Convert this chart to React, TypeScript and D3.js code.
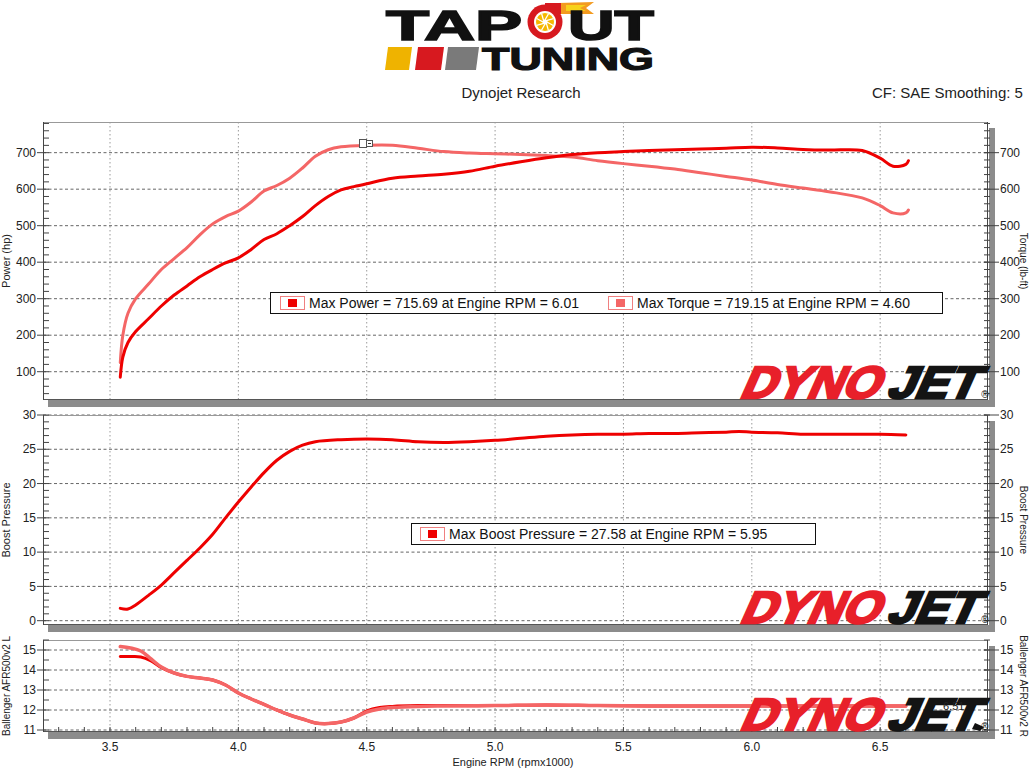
import React from 'react';
import * as d3 from 'd3';

// ---------- DATA ----------
const xTickLabels = ['3.5', '4.0', '4.5', '5.0', '5.5', '6.0', '6.5'];
const xTickValues = [3.5, 4.0, 4.5, 5.0, 5.5, 6.0, 6.5];

const powerRpm = [3.54, 3.55, 3.57, 3.60, 3.65, 3.70, 3.75, 3.80, 3.85, 3.90, 3.95, 4.00, 4.05, 4.10, 4.15, 4.20, 4.25, 4.30, 4.35, 4.40, 4.45, 4.50, 4.60, 4.70, 4.80, 4.90, 5.00, 5.10, 5.20, 5.30, 5.40, 5.50, 5.60, 5.70, 5.80, 5.90, 6.00, 6.10, 6.20, 6.30, 6.43, 6.50, 6.55, 6.60, 6.61];
const powerHp = [85, 140, 180, 210, 245, 280, 310, 335, 360, 380, 398, 412, 435, 462, 478, 500, 525, 555, 580, 598, 607, 615, 630, 636, 641, 649, 663, 675, 686, 695, 700, 703, 706, 708, 710, 712, 715, 713, 709, 707, 706, 685, 663, 668, 678];

const torqueRpm = [3.54, 3.55, 3.57, 3.60, 3.65, 3.70, 3.75, 3.80, 3.85, 3.90, 3.95, 4.00, 4.05, 4.10, 4.15, 4.20, 4.25, 4.30, 4.35, 4.40, 4.50, 4.60, 4.70, 4.80, 4.90, 5.00, 5.10, 5.20, 5.30, 5.40, 5.50, 5.60, 5.70, 5.80, 5.90, 6.00, 6.10, 6.20, 6.30, 6.43, 6.50, 6.55, 6.60, 6.61];
const torqueLbft = [125, 200, 260, 300, 340, 380, 410, 440, 475, 505, 525, 540, 565, 595, 610, 630, 658, 690, 708, 716, 720, 720, 712, 703, 699, 697, 695, 692, 688, 678, 670, 663, 655, 645, 635, 625, 613, 603, 593, 576, 555, 535, 535, 543];

const boostRpm = [3.54, 3.57, 3.60, 3.65, 3.70, 3.75, 3.80, 3.85, 3.90, 3.95, 4.00, 4.05, 4.10, 4.15, 4.20, 4.25, 4.30, 4.40, 4.50, 4.60, 4.70, 4.80, 4.90, 5.00, 5.10, 5.20, 5.30, 5.40, 5.50, 5.60, 5.70, 5.80, 5.90, 5.95, 6.00, 6.10, 6.20, 6.30, 6.40, 6.50, 6.60];
const boostPsi = [1.8, 1.7, 2.3, 3.7, 5.2, 7.0, 8.8, 10.6, 12.6, 15.0, 17.3, 19.5, 21.6, 23.4, 24.7, 25.6, 26.1, 26.4, 26.5, 26.4, 26.1, 26.0, 26.1, 26.3, 26.6, 26.9, 27.1, 27.2, 27.2, 27.3, 27.3, 27.4, 27.5, 27.58, 27.5, 27.4, 27.2, 27.2, 27.2, 27.2, 27.1];

const afrRpm = [3.54, 3.58, 3.62, 3.66, 3.70, 3.75, 3.80, 3.85, 3.90, 3.95, 4.00, 4.05, 4.10, 4.15, 4.20, 4.25, 4.30, 4.35, 4.40, 4.45, 4.50, 4.55, 4.60, 4.70, 4.80, 5.00, 5.20, 5.40, 5.60, 5.80, 6.00, 6.20, 6.40, 6.60];
const afrL = [14.67, 14.67, 14.65, 14.45, 14.12, 13.85, 13.68, 13.6, 13.5, 13.25, 12.85, 12.55, 12.28, 12.0, 11.75, 11.55, 11.35, 11.32, 11.4, 11.6, 11.95, 12.12, 12.18, 12.22, 12.22, 12.22, 12.25, 12.22, 12.2, 12.2, 12.2, 12.2, 12.2, 12.2];
const afrR = [15.17, 15.1, 14.95, 14.55, 14.15, 13.85, 13.68, 13.6, 13.5, 13.25, 12.85, 12.55, 12.28, 12.0, 11.75, 11.55, 11.35, 11.32, 11.4, 11.6, 11.9, 12.05, 12.12, 12.18, 12.2, 12.22, 12.25, 12.22, 12.2, 12.2, 12.2, 12.2, 12.2, 12.2];

const powerTicks = [100, 200, 300, 400, 500, 600, 700];
const boostTicks = [0, 5, 10, 15, 20, 25, 30];
const afrTicks = [11, 12, 13, 14, 15];

const legendPower = 'Max Power = 715.69 at Engine RPM = 6.01';
const legendTorque = 'Max Torque = 719.15 at Engine RPM = 4.60';
const legendBoost = 'Max Boost Pressure = 27.58 at Engine RPM = 5.95';

// ---------- STYLE ----------
const RED = '#ee0000';
const PINK = '#f46666';
const SHADOW = '#8c8c8c';
const FONT = '"Liberation Sans", Arial, sans-serif';

const X0 = 43;
const X1 = 988;
const x = d3.scaleLinear().domain([3.239, 6.92]).range([X0, X1]);

type PanelCfg = {
  top: number;
  bottom: number;
  y: d3.ScaleLinear<number, number>;
  majors: number[];
  minors: number[];
  leftTitle: string;
  rightTitle: string;
  xMinor?: boolean;
};

const minorRange = (a: number, b: number, s: number) => {
  const out: number[] = [];
  for (let v = a; v <= b + 1e-9; v += s) out.push(Math.round(v * 1000) / 1000);
  return out;
};

const panels: PanelCfg[] = [
  {
    top: 122, bottom: 400,
    y: d3.scaleLinear().domain([22.5, 784]).range([400, 122]),
    majors: powerTicks, minors: minorRange(40, 780, 20),
    leftTitle: 'Power (hp)', rightTitle: 'Torque (lb-ft)',
  },
  {
    top: 415, bottom: 625,
    y: d3.scaleLinear().domain([-0.63, 30]).range([625, 415]),
    majors: boostTicks, minors: minorRange(0, 30, 1),
    leftTitle: 'Boost Pressure', rightTitle: 'Boost Pressure',
  },
  {
    top: 640, bottom: 732,
    y: d3.scaleLinear().domain([10.9, 15.5]).range([732, 640]),
    majors: afrTicks, minors: minorRange(11, 15.5, 0.5),
    leftTitle: 'Ballenger AFR500v2 L', rightTitle: 'Ballenger AFR500v2 R',
    xMinor: true,
  },
];

function PanelFrame({ p }: { p: PanelCfg }) {
  const mid = (p.top + p.bottom) / 2;
  return (
    <g>
      <rect x={X0 + 5} y={p.bottom} width={X1 - X0 + 2} height={7} fill={SHADOW} />
      <rect x={X1 + 1} y={p.top + 6} width={6} height={p.bottom - p.top + 1} fill={SHADOW} />
      <rect x={X0} y={p.top} width={X1 - X0} height={p.bottom - p.top} fill="#fff" />
      {xTickValues.map((v) => (
        <line key={'vg' + v} x1={x(v)} x2={x(v)} y1={p.top} y2={p.bottom} stroke="#9a9a9a" strokeDasharray="1.5,2.5" strokeWidth={1} />
      ))}
      {p.majors.map((v) => (
        <line key={'hg' + v} x1={X0} x2={X1} y1={p.y(v)} y2={p.y(v)} stroke="#666" strokeDasharray="3,2.5" strokeWidth={1} />
      ))}
      <line x1={X0} x2={X1} y1={p.top + 0.5} y2={p.top + 0.5} stroke="#999" />
      <line x1={X0} x2={X1} y1={p.bottom - 0.5} y2={p.bottom - 0.5} stroke="#555" />
      <line x1={X0 + 0.5} x2={X0 + 0.5} y1={p.top} y2={p.bottom} stroke="#444" />
      <line x1={X1 - 0.5} x2={X1 - 0.5} y1={p.top} y2={p.bottom} stroke="#444" />
      {p.minors.map((v) => (
        <g key={'mt' + v}>
          <line x1={X0} x2={X0 + 6} y1={p.y(v)} y2={p.y(v)} stroke="#444" />
          <line x1={X1 - 4} x2={X1 + 2} y1={p.y(v)} y2={p.y(v)} stroke="#444" />
        </g>
      ))}
      {p.majors.map((v) => (
        <g key={'mj' + v}>
          <line x1={X0 - 6} x2={X0} y1={p.y(v)} y2={p.y(v)} stroke="#444" />
          <line x1={X1 - 4} x2={X1 + 11} y1={p.y(v)} y2={p.y(v)} stroke="#444" />
          <text x={X0 - 7} y={p.y(v)} dy="0.35em" textAnchor="end" fontSize={12} fontFamily={FONT} fill="#222">{v}</text>
          <text x={X1 + 12} y={p.y(v)} dy="0.35em" textAnchor="start" fontSize={12} fontFamily={FONT} fill="#222">{v}</text>
        </g>
      ))}
      {p.xMinor && minorRange(3.3, 6.9, 0.1).map((v) => (
        <line key={'xm' + v} x1={x(v)} x2={x(v)} y1={p.bottom - 5} y2={p.bottom} stroke="#444" />
      ))}
      <text transform={`translate(10,${mid}) rotate(-90)`} textAnchor="middle" fontSize={p.leftTitle.length > 16 ? 10 : 11} fontFamily={FONT} fill="#222">{p.leftTitle}</text>
      <text transform={`translate(1020,${mid}) rotate(90)`} textAnchor="middle" fontSize={10} fontFamily={FONT} fill="#222">{p.rightTitle}</text>
    </g>
  );
}

function DynojetMark({ baseline }: { baseline: number }) {
  return (
    <g>
      <g transform={`translate(738,${baseline}) skewX(-24)`}>
        <text x={0} y={-1} fontSize={45} fontWeight={900} fontFamily={FONT} fill="#e8202a" stroke="#e8202a" strokeWidth={2.6} strokeLinejoin="miter" textLength={139} lengthAdjust="spacingAndGlyphs">DYNO</text>
        <text x={147} y={-1} fontSize={45} fontWeight={900} fontFamily={FONT} fill="#141414" stroke="#141414" strokeWidth={2.6} strokeLinejoin="miter" textLength={90} lengthAdjust="spacingAndGlyphs">JET</text>
      </g>
      <text x={985} y={baseline - 1} fontSize={10} fontFamily={FONT} fill="#111" textAnchor="middle">®</text>
    </g>
  );
}

function Legend({ x0, y0, w, items }: { x0: number; y0: number; w: number; items: { tx: number; text: string; color: string }[] }) {
  return (
    <g>
      <rect x={x0 + 0.5} y={y0 + 0.5} width={w} height={21} fill="#fff" stroke="#111" />
      {items.map((it, i) => (
        <g key={i}>
          <rect x={it.tx - 28.5} y={y0 + 4.5} width={24} height={13} fill="#fff" stroke="#f08080" />
          <rect x={it.tx - 21} y={y0 + 7} width={9} height={8} fill={it.color} />
          <text x={it.tx} y={y0 + 16} fontSize={14} fontFamily={FONT} fill="#111">{it.text}</text>
        </g>
      ))}
    </g>
  );
}

function TapoutLogo() {
  const spokes = d3.range(8).map((i) => (i * Math.PI) / 4);
  return (
    <g>
      <text x={386} y={40} fontSize={43} fontWeight={900} fontFamily={FONT} fill="#111" stroke="#111" strokeWidth={1.6} textLength={136} lengthAdjust="spacingAndGlyphs">TAP</text>
      <path d="M558,3 L594,2 L586,8 L594,14 L558,14 Z" fill="#f39a1e" />
      <path d="M566,5 L586,5 L580,8 L586,11 L566,11 Z" fill="#f7d21a" />
      <rect x={545} y={3} width={16} height={11} fill="#d7191f" />
      <circle cx={545} cy={22} r={17.5} fill="#d7191f" />
      <circle cx={545} cy={22} r={11} fill="#fff" />
      <circle cx={545} cy={22} r={9} fill="#f5b800" />
      {spokes.map((a, i) => (
        <line key={i} x1={545 + 2 * Math.cos(a)} y1={22 + 2 * Math.sin(a)} x2={545 + 9 * Math.cos(a + 0.4)} y2={22 + 9 * Math.sin(a + 0.4)} stroke="#fff" strokeWidth={1.3} />
      ))}
      <circle cx={545} cy={22} r={2.5} fill="#fff" />
      <text x={568} y={40} fontSize={43} fontWeight={900} fontFamily={FONT} fill="#111" stroke="#111" strokeWidth={1.6} textLength={86} lengthAdjust="spacingAndGlyphs">UT</text>
      <polygon points="388,47 412,47 409,70 385,70" fill="#efb300" />
      <polygon points="418,47 444,47 441,70 415,70" fill="#d7191f" />
      <polygon points="448,47 479,47 476,70 445,70" fill="#7a7a7a" />
      <text x={482} y={70} fontSize={31} fontWeight={900} fontFamily={FONT} fill="#111" stroke="#111" strokeWidth={1.2} textLength={172} lengthAdjust="spacingAndGlyphs">TUNING</text>
    </g>
  );
}

export default function App() {
  const [pTop, pMid, pBot] = panels;
  const mkLine = (ys: d3.ScaleLinear<number, number>) =>
    d3.line<[number, number]>().x((d) => x(d[0])).y((d) => ys(d[1])).curve(d3.curveCatmullRom.alpha(0.5));
  const zip = (a: number[], b: number[]) => a.map((v, i) => [v, b[i]] as [number, number]);

  const topLine = mkLine(pTop.y);
  const midLine = mkLine(pMid.y);
  const botLine = mkLine(pBot.y);

  return (
    <svg width={1032} height={778} style={{ position: 'absolute', left: 0, top: 0, background: '#fff' }}>
      <rect x={0} y={0} width={1032} height={778} fill="#fff" />
      <TapoutLogo />
      <text x={521} y={98} textAnchor="middle" fontSize={15} fontFamily={FONT} fill="#222">Dynojet Research</text>
      <text x={872} y={98} fontSize={15} fontFamily={FONT} fill="#222">CF: SAE Smoothing: 5</text>

      {panels.map((p, i) => <PanelFrame key={i} p={p} />)}

      <DynojetMark baseline={399} />
      <path d={topLine(zip(torqueRpm, torqueLbft)) || ''} fill="none" stroke={PINK} strokeWidth={3} strokeLinejoin="round" strokeLinecap="round" />
      <path d={topLine(zip(powerRpm, powerHp)) || ''} fill="none" stroke={RED} strokeWidth={3} strokeLinejoin="round" strokeLinecap="round" />
      <rect x={359.5} y={139.5} width={7} height={8} fill="#fff" stroke="#555" />
      <rect x={366.5} y={140.5} width={6} height={6} fill="#fff" stroke="#555" />
      <line x1={368} x2={371} y1={143.5} y2={143.5} stroke="#333" />
      <Legend x0={270} y0={292} w={672} items={[
        { tx: 309, text: legendPower, color: RED },
        { tx: 637, text: legendTorque, color: PINK },
      ]} />

      <DynojetMark baseline={624} />
      <path d={midLine(zip(boostRpm, boostPsi)) || ''} fill="none" stroke={RED} strokeWidth={3} strokeLinejoin="round" strokeLinecap="round" />
      <Legend x0={411} y0={523} w={404} items={[
        { tx: 449, text: legendBoost, color: RED },
      ]} />

      <path d={botLine(zip(afrRpm, afrL)) || ''} fill="none" stroke={RED} strokeWidth={3} strokeLinejoin="round" strokeLinecap="round" />
      <path d={botLine(zip(afrRpm, afrR)) || ''} fill="none" stroke={PINK} strokeWidth={3.5} strokeLinejoin="round" strokeLinecap="round" />
      <DynojetMark baseline={731} />
      <text x={943} y={710} fontSize={11} fontFamily={FONT} fill="#222">6.51</text>
      <polygon points="975,723 984,727 980,731 972,729" fill="#111" />

      {xTickValues.map((v, i) => (
        <text key={'xl' + v} x={x(v)} y={751} textAnchor="middle" fontSize={12} fontFamily={FONT} fill="#222">{xTickLabels[i]}</text>
      ))}
      <text x={513} y={766} textAnchor="middle" fontSize={11} fontFamily={FONT} fill="#222">Engine RPM (rpmx1000)</text>
    </svg>
  );
}
